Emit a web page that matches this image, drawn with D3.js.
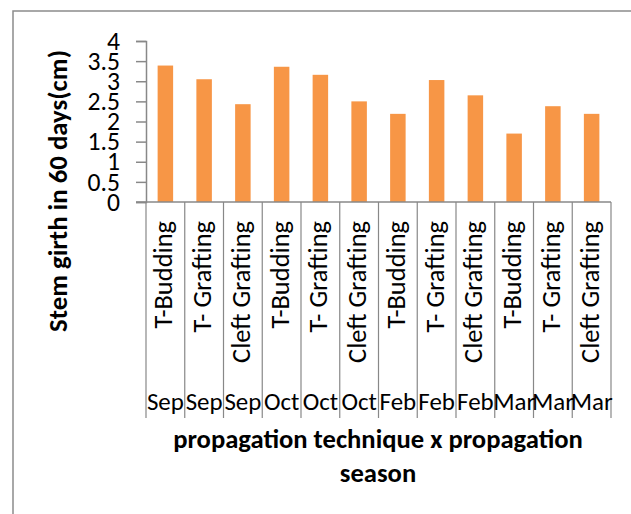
<!DOCTYPE html>
<html><head><meta charset="utf-8">
<script src="https://cdn.jsdelivr.net/npm/d3@7"></script>
<style>html,body{margin:0;padding:0;background:#fff;}svg{display:block;}</style>
</head><body>
<script>
const techniques = ["T-Budding","T- Grafting","Cleft Grafting","T-Budding","T- Grafting","Cleft Grafting","T-Budding","T- Grafting","Cleft Grafting","T-Budding","T- Grafting","Cleft Grafting"];
const seasons = ["Sep","Sep","Sep","Oct","Oct","Oct","Feb","Feb","Feb","Mar","Mar","Mar"];
const stemGirth = [3.39,3.05,2.43,3.36,3.16,2.50,2.19,3.03,2.65,1.70,2.38,2.19];
const yTicks = [0,0.5,1,1.5,2,2.5,3,3.5,4];
const yTitle = "Stem girth in 60 days(cm)";
const xTitle = ["propagation technique x propagation","season"];

const W = 631, H = 514;
const font = "Carlito, Lato, sans-serif";
const axisColor = "#888888";
const svg = d3.select("body").append("svg").attr("width", W).attr("height", H);

svg.append("rect").attr("x",13).attr("y",11).attr("width",700).attr("height",600)
  .attr("fill","none").attr("stroke","#8c8c8c").attr("stroke-width",1.5);

const idx = d3.range(stemGirth.length);
const x = d3.scaleBand().domain(idx).range([146,611]).padding(0);
const y = d3.scaleLinear().domain([0,4]).range([202,41]);

// fit text to a target length by adjusting font size
function fit(sel, target) {
  sel.each(function(){
    const fs = parseFloat(this.getAttribute("font-size"));
    const len = this.getComputedTextLength();
    if (len > 0) this.setAttribute("font-size", (fs*target/len).toFixed(2));
  });
}

// bars
svg.append("g").selectAll("rect").data(idx).join("rect")
  .attr("x", i => x(i) + x.bandwidth()*0.3)
  .attr("width", x.bandwidth()*0.4)
  .attr("y", i => y(stemGirth[i]))
  .attr("height", i => y(0) - y(stemGirth[i]))
  .attr("fill", "#F79646");

// y axis
const yAxis = svg.append("g").attr("transform","translate(146,0)")
  .call(d3.axisLeft(y).tickValues(yTicks).tickFormat(d3.format("")).tickSize(10).tickPadding(16));
yAxis.select(".domain").attr("stroke",axisColor).attr("stroke-width",1.5);
yAxis.selectAll(".tick line").attr("stroke",axisColor).attr("stroke-width",1.5);
yAxis.selectAll(".tick text").attr("font-family",font).attr("font-size",22).attr("fill","#000");
const fourLabel = yAxis.selectAll(".tick text").filter(d => d === 4);
fit(fourLabel, 13);
const tickFs = fourLabel.attr("font-size");
yAxis.selectAll(".tick text").attr("font-size", tickFs);

// x axis line
svg.append("line").attr("x1",136).attr("x2",611).attr("y1",y(0)).attr("y2",y(0))
  .attr("stroke",axisColor).attr("stroke-width",1.5);

// category dividers
const bounds = idx.map(i => x(i)).concat([x(idx[idx.length-1]) + x.bandwidth()]);
svg.append("g").selectAll("line").data(bounds).join("line")
  .attr("x1", d => d).attr("x2", d => d).attr("y1", y(0)).attr("y2", 418)
  .attr("stroke", axisColor).attr("stroke-width", 1.2);

// technique labels (rotated)
const tl = svg.append("g").selectAll("text").data(idx).join("text")
  .attr("transform", i => `translate(${x(i)+x.bandwidth()/2+7},221) rotate(-90)`)
  .attr("text-anchor","end")
  .attr("font-family",font).attr("font-size",22).attr("fill","#000")
  .text(i => techniques[i]);
const cl = tl.filter(i => i === 2);
fit(cl, 142);
tl.attr("font-size", cl.attr("font-size"));

// season labels
const sl = svg.append("g").selectAll("text").data(idx).join("text")
  .attr("x", i => x(i)+x.bandwidth()/2).attr("y",410)
  .attr("text-anchor","middle")
  .attr("font-family",font).attr("font-size",22).attr("fill","#000")
  .text(i => seasons[i]);
const s0 = sl.filter(i => i === 0);
fit(s0, 37);
sl.attr("font-size", s0.attr("font-size"));

// titles
const yt = svg.append("text").attr("transform","translate(67,191) rotate(-90)")
  .attr("text-anchor","middle").attr("font-family",font).attr("font-weight","bold")
  .attr("font-size",22).attr("fill","#000").text(yTitle);
fit(yt, 282);

const xt = svg.append("g").selectAll("text").data(xTitle).join("text")
  .attr("x",378).attr("y",(d,i)=>448+i*34).attr("text-anchor","middle")
  .attr("font-family",font).attr("font-weight","bold").attr("font-size",22).attr("fill","#000")
  .text(d=>d);
const xt0 = xt.filter((d,i) => i === 0);
fit(xt0, 410);
xt.attr("font-size", xt0.attr("font-size"));
</script>
</body></html>
